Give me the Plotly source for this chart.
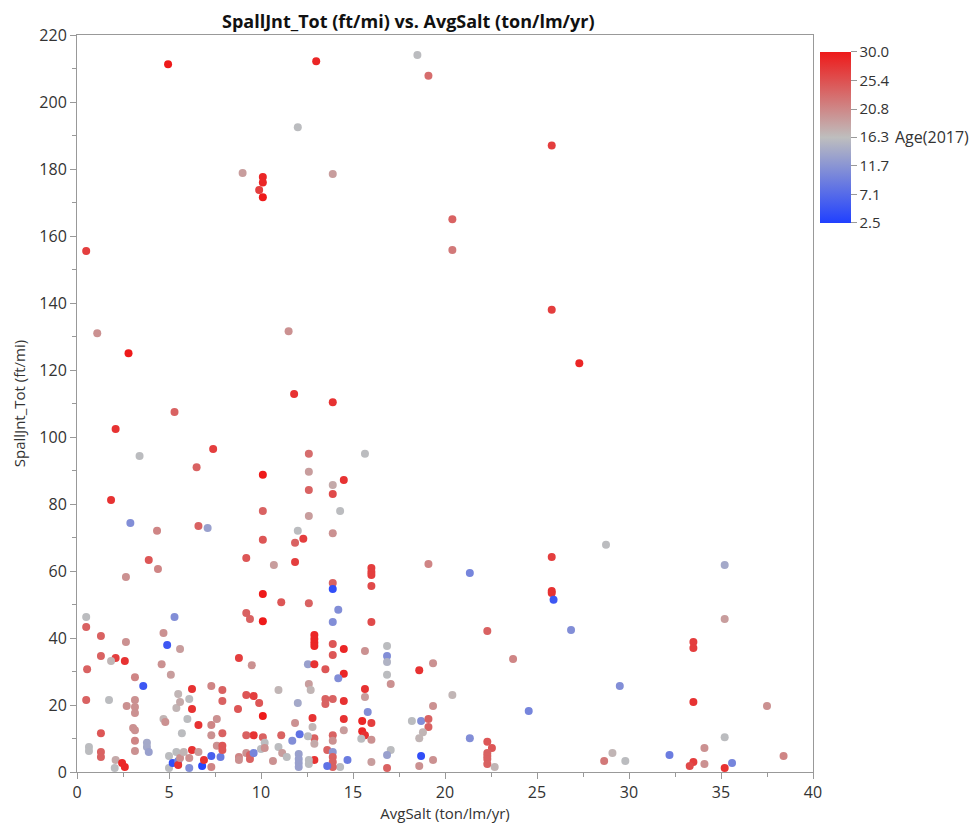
import plotly.graph_objects as go

avg_salt = [
    4.95, 13.0, 18.5, 19.1, 12.0, 9.0, 10.1, 10.1, 9.9, 10.1, 13.9, 0.5, 20.4, 20.4, 25.8, 25.8, 27.3, 1.1, 2.8, 11.5,
    11.8, 13.9, 5.3, 2.1, 3.4, 7.4, 6.5, 10.1, 12.6, 15.65, 12.6, 13.9, 14.5, 12.6, 13.9, 1.85, 10.1, 12.6, 14.3, 2.9,
    6.6, 7.1, 4.35, 3.9, 4.4, 2.66, 0.5, 0.5, 1.3, 2.66, 5.3, 4.7, 4.9, 5.6, 1.3, 2.1, 1.85, 2.6, 0.55, 4.6,
    3.15, 5.1, 3.6, 0.5, 1.74, 2.7, 3.15, 3.15, 3.15, 4.7, 4.8, 3.05, 3.15, 1.3, 3.15, 3.8, 3.8, 0.65, 0.65, 1.3,
    1.3, 3.15, 3.9, 2.1, 2.05, 2.45, 2.6, 5.0, 5.0, 5.2, 5.4, 5.5, 5.5, 5.6, 5.8, 6.1, 6.25, 6.1, 6.6, 6.8,
    6.9, 7.3, 7.3, 7.8, 7.6, 7.9, 7.9, 7.3, 7.9, 7.6, 7.3, 6.6, 5.7, 6.0, 5.4, 5.6, 5.5, 6.1, 6.25, 6.25,
    7.3, 7.9, 7.9, 8.75, 9.2, 9.6, 9.9, 10.1, 10.95, 12.0, 11.85, 12.8, 12.8, 8.8, 9.5, 10.1, 10.1, 9.2, 9.4, 9.2,
    10.1, 10.7, 11.1, 11.85, 12.3, 11.85, 12.0, 12.6, 12.9, 12.9, 12.9, 12.9, 12.55, 12.9, 12.6, 12.7, 12.9, 12.9, 12.9, 12.1,
    11.7, 11.1, 10.1, 10.2, 10.0, 10.2, 9.6, 9.2, 9.2, 9.4, 9.4, 9.6, 8.8, 8.8, 10.65, 10.95, 11.15, 11.4, 12.05, 12.05,
    12.05, 12.05, 12.55, 12.6, 12.6, 13.9, 16.0, 16.0, 16.0, 16.0, 13.9, 13.9, 19.1, 21.35, 14.2, 13.9, 16.0, 22.3, 23.7, 13.9,
    14.5, 13.9, 15.65, 16.85, 16.85, 16.85, 16.85, 17.05, 19.35, 18.6, 20.4, 19.35, 24.55, 13.5, 14.5, 14.2, 13.5, 13.5, 13.9, 14.5,
    15.65, 15.65, 15.8, 14.5, 14.5, 15.5, 16.0, 15.5, 15.65, 15.45, 16.0, 18.2, 18.7, 19.1, 19.1, 18.8, 18.6, 21.35, 22.3, 22.55,
    22.3, 22.3, 22.3, 22.3, 22.7, 18.7, 19.35, 18.6, 16.85, 17.05, 16.85, 14.7, 16.0, 14.3, 13.9, 13.9, 13.6, 13.9, 13.9, 13.9,
    13.9, 13.6, 28.75, 25.8, 25.8, 25.8, 25.9, 26.85, 35.2, 35.2, 33.5, 33.5, 33.5, 29.5, 37.5, 35.2, 34.1, 29.1, 28.65, 29.8,
    32.2, 33.5, 33.3, 34.1, 35.2, 35.6, 38.4,
]

spall_jnt = [
    211.3, 212.2, 214.0, 207.8, 192.5, 178.8, 177.6, 176.0, 173.7, 171.6, 178.5, 155.5, 165.0, 155.8, 187.0, 138.0, 122.0, 131.0, 125.0, 131.6,
    112.8, 110.4, 107.5, 102.4, 94.3, 96.4, 91.0, 88.7, 95.0, 95.0, 89.6, 85.7, 87.2, 84.2, 83.0, 81.2, 77.9, 76.4, 77.9, 74.3,
    73.4, 72.8, 72.0, 63.3, 60.6, 58.2, 46.3, 43.3, 40.6, 38.8, 46.3, 41.5, 37.9, 36.7, 34.6, 34.0, 33.1, 33.1, 30.7, 32.2,
    28.3, 29.0, 25.7, 21.5, 21.5, 19.7, 21.5, 19.4, 17.6, 15.8, 14.9, 13.1, 12.5, 11.6, 9.3, 8.7, 7.5, 7.5, 6.3, 6.0,
    4.5, 6.3, 6.0, 3.6, 1.2, 2.7, 1.5, 4.8, 1.2, 2.7, 6.0, 3.3, 2.1, 4.2, 6.0, 1.2, 6.6, 4.2, 6.0, 1.8,
    3.6, 4.8, 1.5, 4.5, 7.8, 7.8, 6.6, 11.0, 11.6, 15.8, 14.0, 14.0, 11.6, 15.8, 19.1, 20.9, 23.3, 21.8, 18.8, 24.8,
    25.7, 24.5, 21.2, 18.8, 23.0, 22.7, 20.6, 16.7, 24.5, 20.6, 14.6, 16.1, 13.4, 34.0, 31.9, 53.1, 45.0, 47.5, 45.7, 63.9,
    69.3, 61.8, 50.7, 68.4, 69.6, 62.7, 72.0, 50.4, 40.9, 39.7, 38.6, 37.6, 32.2, 32.2, 26.3, 24.5, 10.1, 8.4, 3.6, 11.3,
    9.3, 11.0, 10.4, 8.7, 6.9, 7.2, 11.0, 11.0, 5.7, 5.1, 3.9, 5.7, 4.5, 3.6, 3.3, 7.5, 5.7, 4.5, 5.4, 3.9,
    2.7, 1.5, 10.7, 3.6, 2.4, 71.3, 60.9, 59.7, 58.8, 55.5, 56.4, 54.6, 62.1, 59.4, 48.4, 44.8, 44.8, 42.1, 33.7, 38.2,
    36.7, 34.9, 36.1, 37.6, 34.6, 32.8, 29.0, 26.3, 32.5, 30.4, 23.0, 19.7, 18.2, 30.7, 29.3, 28.0, 21.8, 20.3, 21.8, 21.2,
    24.8, 22.4, 17.9, 15.8, 12.5, 15.2, 14.6, 12.2, 11.0, 9.9, 9.6, 15.2, 15.2, 15.8, 13.4, 11.9, 10.1, 10.1, 9.0, 7.2,
    5.7, 4.8, 3.9, 2.4, 1.5, 4.8, 3.6, 1.8, 1.2, 6.6, 5.1, 3.6, 3.0, 1.5, 11.0, 9.3, 6.6, 6.0, 4.5, 3.0,
    1.5, 1.8, 67.8, 64.2, 54.0, 53.4, 51.4, 42.4, 61.8, 45.7, 38.8, 37.0, 20.9, 25.7, 19.7, 10.4, 7.2, 5.7, 3.3, 3.3,
    5.1, 3.0, 1.8, 2.4, 1.2, 2.7, 4.8,
]

age_2017 = [
    30, 29, 16, 23, 16, 19, 29, 29, 27, 30, 19, 27, 24, 22, 27, 27, 29, 20, 30, 20,
    28, 28, 24, 28, 16, 27, 24, 30, 23, 16, 19, 18, 28, 24, 26, 28, 24, 19, 16, 11,
    24, 13, 21, 25, 21, 20, 16, 24, 24, 20, 11, 20, 5, 19, 24, 27, 17, 28, 24, 20,
    21, 19, 5, 24, 16, 20, 20, 20, 20, 17, 20, 20, 20, 25, 21, 14, 14, 16, 16, 24,
    24, 20, 13, 18, 16, 29, 29, 16, 16, 4, 16, 10, 28, 20, 17, 11, 28, 20, 19, 3,
    28, 6, 21, 9, 20, 25, 25, 20, 24, 20, 21, 28, 16, 16, 17, 18, 17, 16, 28, 28,
    21, 24, 24, 25, 25, 27, 25, 30, 17, 14, 20, 28, 17, 27, 20, 30, 30, 24, 24, 25,
    25, 19, 25, 24, 27, 27, 16, 24, 29, 29, 29, 29, 13, 28, 19, 17, 24, 18, 28, 8,
    11, 24, 24, 16, 16, 20, 28, 24, 20, 24, 24, 10, 21, 20, 20, 16, 19, 16, 13, 13,
    13, 13, 16, 16, 16, 20, 27, 27, 27, 26, 24, 4, 21, 10, 11, 11, 26, 24, 21, 25,
    29, 25, 20, 16, 11, 15, 16, 20, 20, 28, 17, 20, 10, 25, 29, 11, 24, 24, 24, 28,
    28, 19, 11, 28, 19, 29, 27, 29, 28, 16, 20, 16, 11, 24, 24, 17, 17, 11, 25, 25,
    24, 24, 24, 24, 17, 4, 20, 20, 24, 16, 13, 9, 19, 16, 24, 20, 24, 12, 24, 24,
    24, 8, 16, 27, 28, 28, 5, 11, 14, 19, 27, 27, 28, 11, 20, 16, 20, 17, 22, 16,
    9, 27, 26, 20, 28, 10, 21,
]

cbar_ticks = [30.0, 25.4, 20.8, 16.3, 11.7, 7.1, 2.5]
cbar_ticktext = ["30.0", "25.4", "20.8", "16.3", "11.7", "7.1", "2.5"]

font_family = "Open Sans, Noto Sans, sans-serif"
text_color = "#333"

fig = go.Figure()
fig.add_trace(go.Scatter(
    x=avg_salt, y=spall_jnt, mode="markers",
    marker=dict(
        size=8,
        color=age_2017,
        cmin=2.5, cmax=30,
        colorscale=[[0.0, "rgb(32,64,255)"], [0.5, "rgb(190,190,190)"], [1.0, "rgb(238,26,26)"]],
        line=dict(width=0),
        showscale=True,
        colorbar=dict(
            x=1.0095, xanchor="left", xpad=0,
            y=0.977, yanchor="top", ypad=0,
            len=0.232, lenmode="fraction",
            thickness=31, thicknessmode="pixels",
            outlinewidth=0,
            tickvals=cbar_ticks, ticktext=cbar_ticktext,
            ticks="outside", ticklen=6, tickcolor="#999",
            tickfont=dict(family=font_family, size=15, color=text_color),
        ),
    ),
    showlegend=False,
    hovertemplate="AvgSalt=%{x}<br>SpallJnt_Tot=%{y}<br>Age=%{marker.color}<extra></extra>",
))

axis_common = dict(
    showgrid=False, zeroline=False,
    showline=True, linecolor="#999", linewidth=1, mirror=True,
    ticks="outside", ticklen=6, tickcolor="#999",
    tickfont=dict(family=font_family, size=16, color=text_color),
)

fig.update_xaxes(
    range=[0, 40], dtick=5, tick0=0,
    minor=dict(ticks="outside", ticklen=4, tickcolor="#999", dtick=2.5),
    title=dict(text="AvgSalt (ton/lm/yr)", font=dict(family=font_family, size=15, color=text_color), standoff=6),
    **axis_common,
)
fig.update_yaxes(
    range=[0, 220], dtick=20, tick0=0,
    minor=dict(ticks="outside", ticklen=4, tickcolor="#999", dtick=10),
    title=dict(text="SpallJnt_Tot (ft/mi)", font=dict(family=font_family, size=15, color=text_color), standoff=10),
    **axis_common,
)

fig.add_annotation(
    text="Age(2017)", xref="paper", yref="paper",
    x=1.1087, y=0.8616, xanchor="left", yanchor="middle",
    showarrow=False, font=dict(family=font_family, size=16, color=text_color),
)

fig.add_annotation(
    text="<b>SpallJnt_Tot (ft/mi) vs. AvgSalt (ton/lm/yr)</b>",
    xref="paper", yref="paper",
    x=(408 - 77) / 736, y=1 + (35 - 21) / 737, xanchor="center", yanchor="middle",
    showarrow=False, font=dict(family=font_family, size=18, color="#111"),
)

fig.update_layout(
    width=972, height=823,
    margin=dict(l=69, r=167, t=27, b=59),
    paper_bgcolor="white", plot_bgcolor="white",
    font=dict(family=font_family),
)

fig.write_html("out.html")
